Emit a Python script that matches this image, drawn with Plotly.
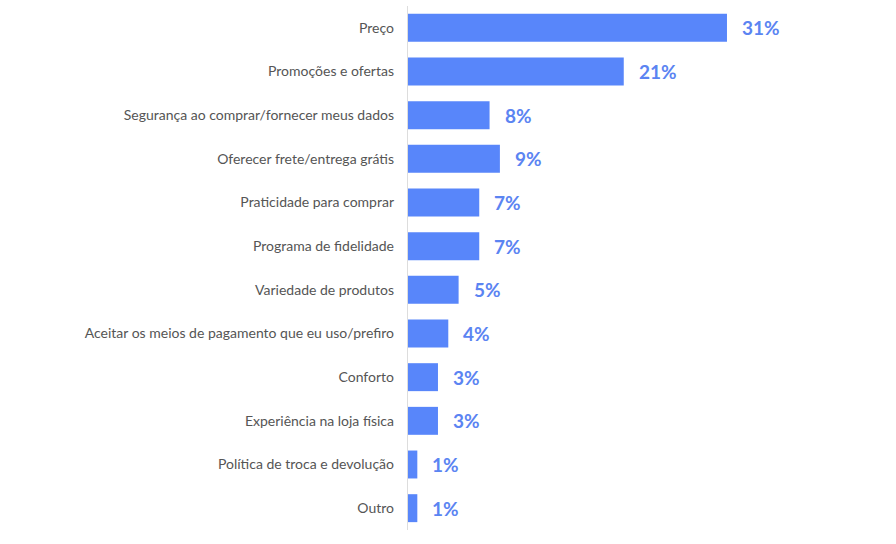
import plotly.graph_objects as go

categories = [
    "Preço",
    "Promoções e ofertas",
    "Segurança ao comprar/fornecer meus dados",
    "Oferecer frete/entrega grátis",
    "Praticidade para comprar",
    "Programa de fidelidade",
    "Variedade de produtos",
    "Aceitar os meios de pagamento que eu uso/prefiro",
    "Conforto",
    "Experiência na loja física",
    "Política de troca e devolução",
    "Outro",
]
values = [31, 21, 8, 9, 7, 7, 5, 4, 3, 3, 1, 1]
value_labels = [f"{v}%" for v in values]

BAR = "#5886fa"
LABEL = "#5b84f2"

fig = go.Figure()
fig.add_trace(go.Bar(
    x=values, y=categories, orientation="h",
    marker=dict(color=BAR, line=dict(width=0)),
    width=0.64, hoverinfo="skip",
))
for c, v, t in zip(categories, values, value_labels):
    fig.add_annotation(x=v, y=c, text=f"<b>{t}</b>", showarrow=False,
                       xanchor="left", yanchor="middle", xshift=13,
                       font=dict(family="Lato", size=19, color=LABEL))

fig.update_layout(
    width=896, height=544,
    margin=dict(l=407, r=40, t=6, b=14),
    paper_bgcolor="white", plot_bgcolor="white",
    showlegend=False,
    bargap=0.36,
    xaxis=dict(range=[0, 43.5], visible=False, fixedrange=True),
    yaxis=dict(
        autorange="reversed",
        showgrid=False, zeroline=False,
        showline=False, ticks="",
        tickfont=dict(family="Lato", size=14, color="#555555"),
        ticklabelstandoff=12,
    ),
    shapes=[dict(type="line", xref="x", yref="paper", x0=0, x1=0, y0=0, y1=1,
                 line=dict(color="#dddddd", width=2), layer="above")],
)
fig.write_html("out.html")
